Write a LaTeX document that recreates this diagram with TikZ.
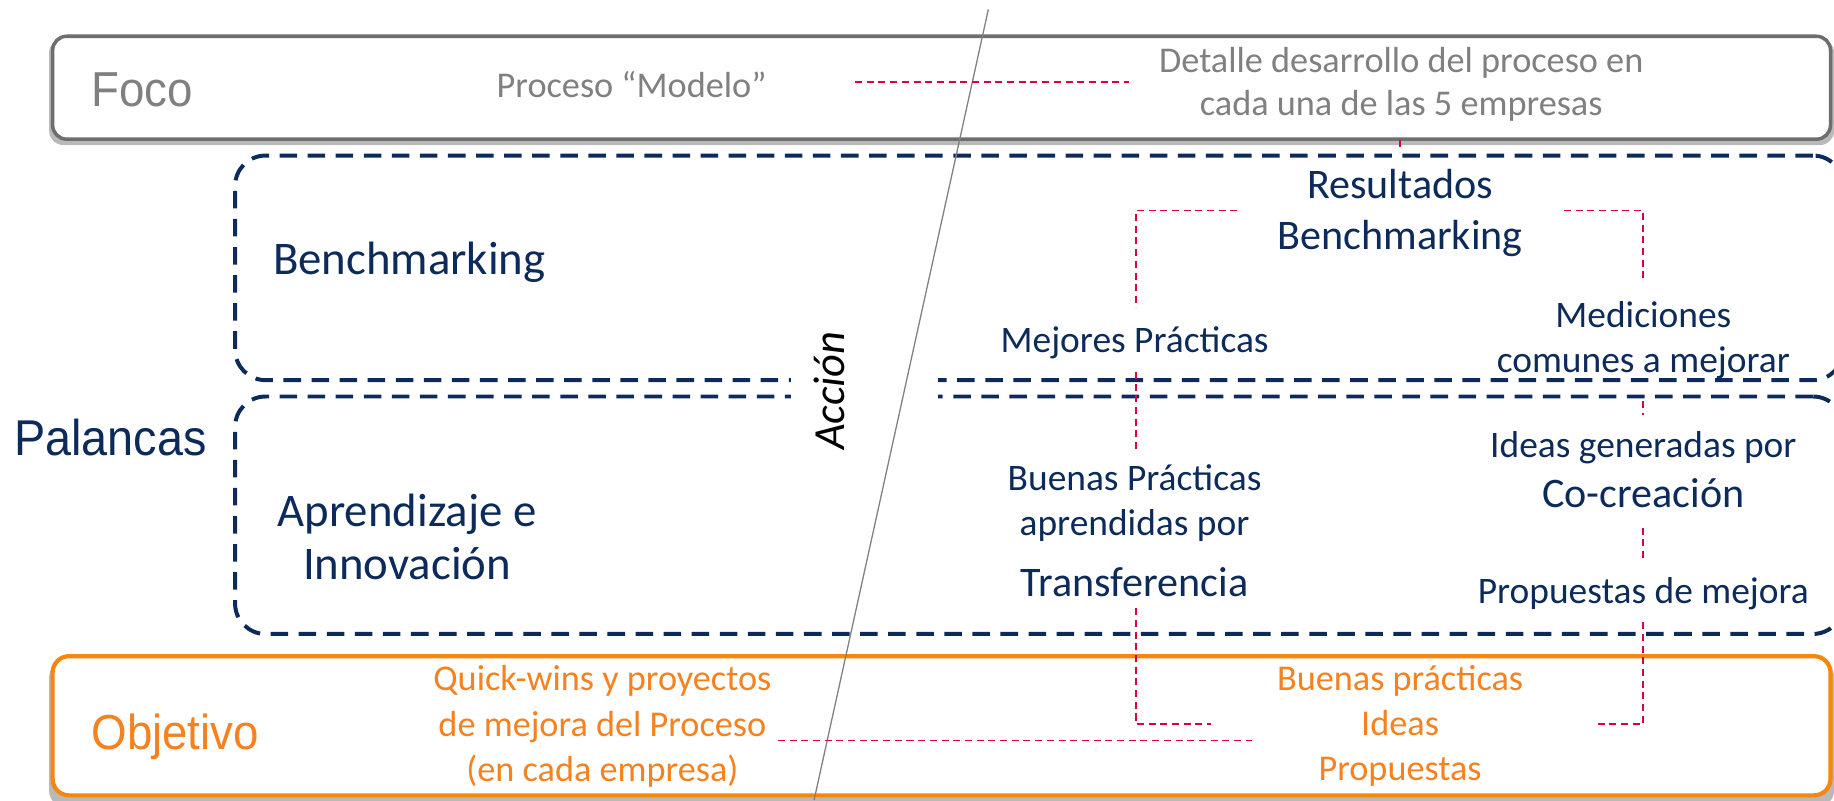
\documentclass[tikz,border=0pt]{standalone}
\usepackage{fontspec}
\setmainfont{Carlito}
\newfontfamily\arialn[FakeStretch=0.93]{Liberation Sans}
\definecolor{navy}{HTML}{0C2A5A}
\definecolor{txtgray}{HTML}{808080}
\definecolor{bordgray}{HTML}{6E6E6E}
\definecolor{orng}{HTML}{F7860F}
\definecolor{otxt}{HTML}{F58220}
\definecolor{redd}{HTML}{D9003D}
\tikzset{
  lbl/.style={inner sep=0pt, align=center},
  navytxt/.style={lbl, text=navy},
  graytxt/.style={lbl, text=txtgray},
  orangetxt/.style={lbl, text=otxt},
  lever/.style={draw=navy, line width=3.4pt, dash pattern=on 15pt off 9pt, rounded corners=26pt, inner sep=0pt},
  reddash/.style={draw=redd, line width=1.5pt, dash pattern=on 6pt off 4pt},
  fsz/.style={font=\fontsize{#1}{#1}\selectfont}
}
\begin{document}
\begin{tikzpicture}[x=1pt,y=-1pt]
\useasboundingbox (0,0) rectangle (1568,684);
% Foco box
\fill[gray!55, rounded corners=12pt] (42,33) rectangle (1568,124);
\node[draw=bordgray, line width=3pt, fill=white, rounded corners=12pt, minimum width=1520pt, minimum height=88pt, inner sep=0pt] (focobox) at (805,75) {};
% Objetivo box
\fill[gray!55, rounded corners=14pt] (42,565) rectangle (1568,690);
\node[draw=orng, line width=3.6pt, fill=white, rounded corners=14pt, minimum width=1520pt, minimum height=119pt, inner sep=0pt] (objbox) at (805,620.5) {};
% lever boxes
\node[lever, minimum width=1375pt, minimum height=192pt] (benchbox) at (888.5,229) {};
\node[lever, minimum width=1375pt, minimum height=203pt] (aprbox) at (888.5,440.5) {};
\fill[white] (676,318) rectangle (802,346);
% diagonal
\coordinate (dtop) at (845,8);
\coordinate (dbot) at (696,684);
\draw[gray, line width=1.1pt] (dtop) -- (dbot);
% left labels
\node[lbl, text=txtgray, font=\arialn\fontsize{42}{46}\selectfont, anchor=west] (foco) at (78,77) {Foco};
\node[lbl, text=navy, font=\arialn\fontsize{43}{46}\selectfont, anchor=west] (palancas) at (12,374) {Palancas};
\node[lbl, text=otxt, font=\arialn\fontsize{42}{46}\selectfont, anchor=west] (objetivo) at (78,630) {Objetivo};
\node[lbl, rotate=90, font=\itshape\fontsize{38}{40}\selectfont] (accion) at (709,334) {Acción};
% Foco row
\node[graytxt, fsz=31] (modelo) at (540,72) {Proceso “Modelo”};
\node[graytxt, font=\fontsize{31}{37}\selectfont] (detalle) at (1198,72) {Detalle desarrollo del proceso en\\cada una de las 5 empresas};
% benchmarking row
\node[navytxt, fsz=40] (bench) at (350,224) {Benchmarking};
\node[navytxt, font=\fontsize{36}{43}\selectfont] (resbench) at (1197,182) {Resultados\\Benchmarking};
\node[navytxt, fsz=32] (mejores) at (970,293) {Mejores Prácticas};
\node[navytxt, font=\fontsize{32}{38}\selectfont] (medic) at (1405,291) {Mediciones\\comunes a mejorar};
% aprendizaje row
\node[navytxt, font=\fontsize{40}{46}\selectfont] (apr) at (348,459) {Aprendizaje e\\Innovación};
\node[navytxt, font=\fontsize{32}{38}\selectfont] (buenas) at (970,430) {Buenas Prácticas\\aprendidas por};
\node[navytxt, fsz=36] (transf) at (970,498) {Transferencia};
\node[navytxt, fsz=32] (ideas) at (1405,383) {Ideas generadas por};
\node[navytxt, fsz=36] (cocrea) at (1405,422) {Co-creación};
\node[navytxt, fsz=32] (propuestas) at (1405,508) {Propuestas de mejora};
% objetivo row
\node[orangetxt, font=\fontsize{31}{38.5}\selectfont] (quick) at (515,621) {Quick-wins y proyectos\\de mejora del Proceso\\(en cada empresa)};
\node[orangetxt, font=\fontsize{31}{38.5}\selectfont] (resobj) at (1197,621) {Buenas prácticas\\Ideas\\Propuestas};
% red connectors
\coordinate (m1) at (731,70);
\coordinate (m2) at (965,70);
\draw[reddash] (m1) -- (m2);
\coordinate (t1) at (1197,120);
\coordinate (t2) at (1197,130);
\draw[reddash] (t1) -- (t2);
\coordinate (lb1) at (1058,180);
\coordinate (lb2) at (971,263);
\draw[reddash] (lb1) -| (lb2);
\coordinate (rb1) at (1337,180);
\coordinate (rb2) at (1405,239);
\draw[reddash] (rb1) -| (rb2);
\coordinate (lv1) at (971,318);
\coordinate (lv2) at (971,385);
\draw[reddash] (lv1) -- (lv2);
\coordinate (rv1) at (1405,343);
\coordinate (rv2) at (1405,355);
\draw[reddash] (rv1) -- (rv2);
\coordinate (rv3) at (1405,451);
\coordinate (rv4) at (1405,480);
\draw[reddash] (rv3) -- (rv4);
\coordinate (lo1) at (971,520);
\coordinate (lo2) at (1035,619);
\draw[reddash] (lo1) |- (lo2);
\coordinate (ro1) at (1405,532);
\coordinate (ro2) at (1365,619);
\draw[reddash] (ro1) |- (ro2);
\coordinate (h1) at (665,633);
\coordinate (h2) at (1070,633);
\draw[reddash] (h1) -- (h2);
\end{tikzpicture}
\end{document}
